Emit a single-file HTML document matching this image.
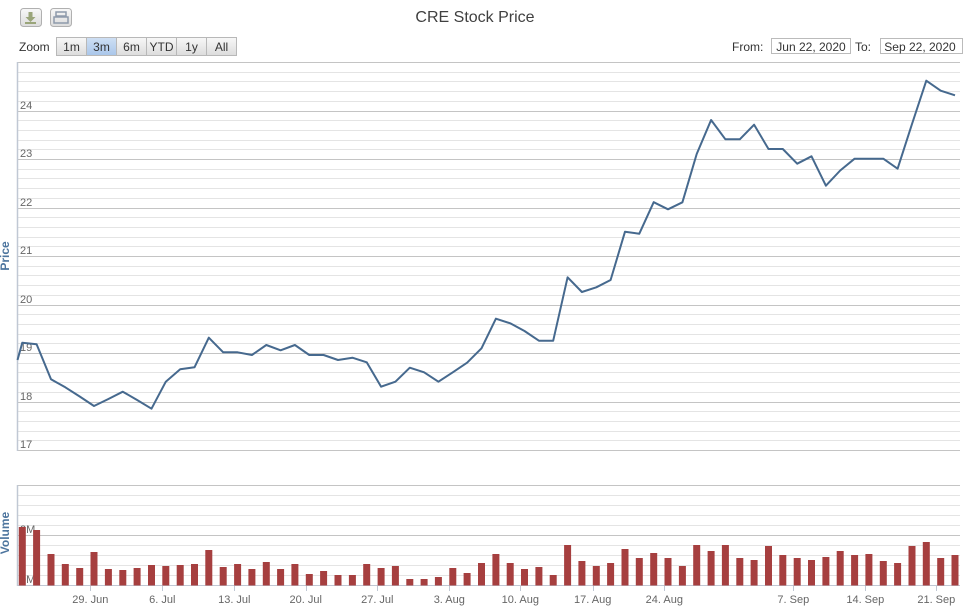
<!DOCTYPE html>
<html><head><meta charset="utf-8"><style>
html,body{margin:0;padding:0;background:#fff;}
svg{display:block;font-family:"Liberation Sans",sans-serif;}
</style></head><body>
<svg width="967" height="612" viewBox="0 0 967 612" xmlns="http://www.w3.org/2000/svg">
<defs>
<linearGradient id="bg" x1="0" y1="0" x2="0" y2="1"><stop offset="0" stop-color="#f8f8f8"/><stop offset="1" stop-color="#dcdcdc"/></linearGradient>
<linearGradient id="sel" x1="0" y1="0" x2="0" y2="1"><stop offset="0" stop-color="#cfe0f4"/><stop offset="1" stop-color="#a9c6ea"/></linearGradient>
</defs>
<rect width="967" height="612" fill="#fff"/>
<!-- export buttons -->
<rect x="20.5" y="8.5" width="21" height="18" rx="3" fill="url(#bg)" stroke="#b0b0b0"/>
<path d="M28.5 12h4v5h3l-5 5-5-5h3z" fill="#9aa57a"/><rect x="25" y="22" width="11" height="2" fill="#9aa57a"/>
<rect x="50.5" y="8.5" width="21" height="18" rx="3" fill="url(#bg)" stroke="#b0b0b0"/>
<rect x="56" y="12" width="10" height="4" fill="none" stroke="#8e9aab" stroke-width="1.5"/><rect x="54" y="17" width="14" height="6" fill="none" stroke="#8e9aab" stroke-width="1.5"/>
<!-- title -->
<text x="475" y="22" text-anchor="middle" font-size="16" fill="#404040">CRE Stock Price</text>
<!-- range selector -->
<text x="19" y="51" font-size="12" fill="#333">Zoom</text>
<g font-size="12" fill="#333" text-anchor="middle">
<rect x="56.5" y="37.5" width="30" height="18" fill="url(#bg)" stroke="#b8b8b8"/><text x="71.5" y="51">1m</text>
<rect x="86.5" y="37.5" width="30" height="18" fill="url(#sel)" stroke="#b8b8b8"/><text x="101.5" y="51">3m</text>
<rect x="116.5" y="37.5" width="30" height="18" fill="url(#bg)" stroke="#b8b8b8"/><text x="131.5" y="51">6m</text>
<rect x="146.5" y="37.5" width="30" height="18" fill="url(#bg)" stroke="#b8b8b8"/><text x="161.5" y="51">YTD</text>
<rect x="176.5" y="37.5" width="30" height="18" fill="url(#bg)" stroke="#b8b8b8"/><text x="191.5" y="51">1y</text>
<rect x="206.5" y="37.5" width="30" height="18" fill="url(#bg)" stroke="#b8b8b8"/><text x="221.5" y="51">All</text>
</g>
<text x="732" y="51" font-size="12" fill="#333">From:</text>
<rect x="771.5" y="38.5" width="79" height="15" fill="#fff" stroke="#bbb"/>
<text x="811" y="51" font-size="12" fill="#333" text-anchor="middle">Jun 22, 2020</text>
<text x="855" y="51" font-size="12" fill="#333">To:</text>
<rect x="880.5" y="38.5" width="82" height="15" fill="#fff" stroke="#bbb"/>
<text x="920" y="51" font-size="12" fill="#333" text-anchor="middle">Sep 22, 2020</text>

<!-- price grid -->
<g stroke="#e2e2e2" stroke-width="1" id="minor"></g>
<g id="pgrid"></g>
<!-- volume grid -->
<g id="vgrid"></g>
<g id="labels" font-size="11" fill="#666"></g>
<g id="bars" fill="#a63f3f"></g>
<polyline id="pline" fill="none" stroke="#46698e" stroke-width="2" stroke-linejoin="round" points=""/>
<g id="xt"></g>
<text transform="translate(9,256) rotate(-90)" text-anchor="middle" font-size="12" font-weight="bold" fill="#4d759e">Price</text>
<text transform="translate(9,533) rotate(-90)" text-anchor="middle" font-size="12" font-weight="bold" fill="#4d759e">Volume</text>
</svg>
<script>
(function(){
var NS="http://www.w3.org/2000/svg";
function el(tag,attrs,parent,txt){var e=document.createElementNS(NS,tag);for(var k in attrs)e.setAttribute(k,attrs[k]);if(txt!==undefined)e.textContent=txt;parent.appendChild(e);return e;}
var L=17,R=960;
var minor=document.getElementById('minor'),pg=document.getElementById('pgrid'),vg=document.getElementById('vgrid'),lab=document.getElementById('labels');
// price grid 17..25
for(var k=0;k<=40;k++){
  var y=450-k*48.5/5; var yy=Math.round(y)+0.5;
  if(k%5==0){el('line',{x1:L,x2:R,y1:yy,y2:yy,stroke:'#c4c4c4'},pg);}
  else el('line',{x1:L,x2:R,y1:yy,y2:yy,stroke:'#e4e4e4'},minor);
}
for(var p=17;p<=24;p++){var y=450-(p-17)*48.5;el('text',{x:20,y:Math.round(y)-2},lab,String(p));}
// left axis lines
el('line',{x1:17.5,x2:17.5,y1:62,y2:451,stroke:'#c0c8d4','stroke-width':1.5},pg);
// volume grid
for(var k=0;k<=10;k++){var y=585.5-k*10;el('line',{x1:L,x2:R,y1:y,y2:y,stroke:(k%5==0)?'#c4c4c4':'#e4e4e4'},vg);}
el('line',{x1:17.5,x2:17.5,y1:485,y2:586,stroke:'#c0c8d4','stroke-width':1.5},vg);
el('line',{x1:L,x2:R,y1:585.5,y2:585.5,stroke:'#c0c8d4'},vg);
el('text',{x:20,y:533},lab,'2M');
el('text',{x:20,y:583},lab,'0M');
// bars
var tops=[527,530,554,564,568,552,569,570,568,565,566,565,564,550,567,564,569,562,569,564,574,571,575,575,564,568,566,579,579,577,568,573,563,554,563,569,567,575,545,561,566,563,549,558,553,558,566,545,551,545,558,560,546,555,558,560,557,551,555,554,561,563,546,542,558,555];
var bars=document.getElementById('bars');
for(var i=0;i<tops.length;i++){var cx=22.3+14.35*i;el('rect',{x:(cx-3.5).toFixed(1),y:tops[i],width:7,height:(585.5-tops[i]).toFixed(1)},bars);}
// price line
var ys=[342.7,344.3,379.3,387.3,396.5,406,399,391.7,400,408.7,381.7,369.3,367.3,337.7,352.3,352.3,355,345,350.3,345,355,355,360,357.7,362.3,386.7,381.7,367.7,372.3,381.7,372.3,362.7,348.3,318.7,323.3,331,340.7,340.7,277.3,292,287.3,280,231.7,233.7,202.2,209.3,202.3,154,120,139.3,139.3,124.7,149,149,163.7,156.3,185.7,170.5,158.7,158.7,158.7,168.7,124,80.7,90.7,95.3];
var pts=['17.5,360'];
for(var i=0;i<ys.length;i++){pts.push((22.3+14.35*i).toFixed(1)+','+ys[i]);}
document.getElementById('pline').setAttribute('points',pts.join(' '));
// x ticks
var xt=document.getElementById('xt');
var ticks=[[90.3,'29. Jun'],[162.3,'6. Jul'],[234.3,'13. Jul'],[305.7,'20. Jul'],[377.3,'27. Jul'],[449.3,'3. Aug'],[520.3,'10. Aug'],[592.7,'17. Aug'],[664.3,'24. Aug'],[793.3,'7. Sep'],[865.3,'14. Sep'],[936.3,'21. Sep']];
ticks.forEach(function(t){var x=Math.round(t[0])+0.5;el('line',{x1:x,x2:x,y1:586,y2:591,stroke:'#c0c8d4'},xt);el('text',{x:t[0],y:603,'font-size':11,fill:'#666','text-anchor':'middle'},xt,t[1]);});
})();
</script>
</body></html>
